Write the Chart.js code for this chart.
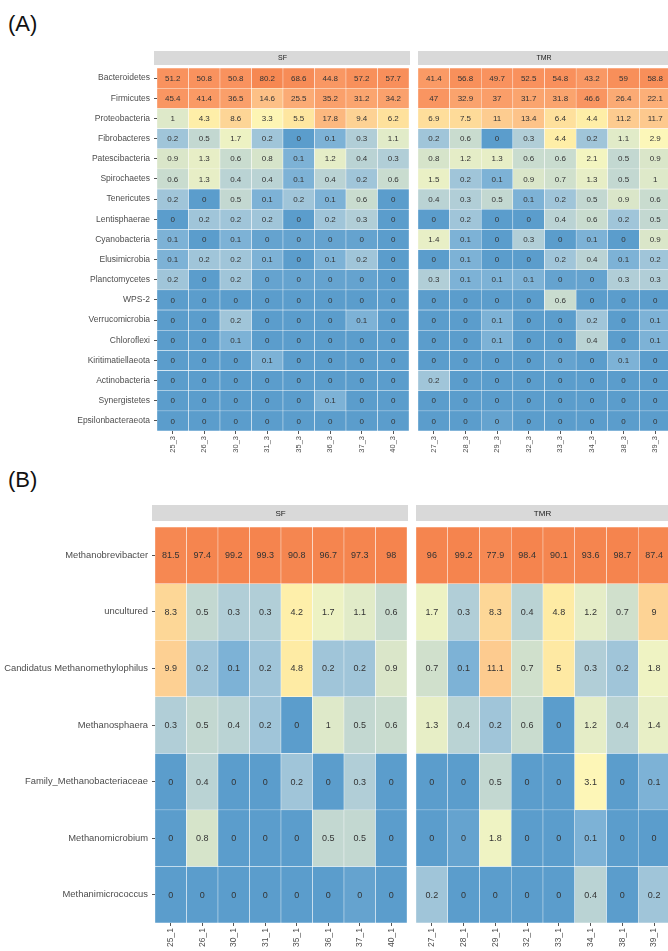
<!DOCTYPE html>
<html>
<head>
<meta charset="utf-8">
<script src="https://cdn.jsdelivr.net/npm/chart.js@4.4.1/dist/chart.umd.min.js"></script>
<style>
  html, body { margin: 0; padding: 0; background: #ffffff; width: 668px; height: 951px; overflow: hidden; }
  .tag { position: absolute; font-family: "Liberation Sans", Arial, sans-serif; font-size: 22px; color: #111; }
  canvas { position: absolute; }
</style>
</head>
<body>
<div class="tag" style="left:8px; top:11px;">(A)</div>
<div class="tag" style="left:8px; top:467px;">(B)</div>
<canvas id="phylaSF" width="410" height="417" style="left:0px; top:40px;"></canvas>
<canvas id="phylaTMR" width="254" height="417" style="left:418px; top:40px;"></canvas>
<canvas id="methSF" width="408" height="456" style="left:0px; top:495px;"></canvas>
<canvas id="methTMR" width="255" height="456" style="left:416px; top:495px;"></canvas>
<script>
// ---- (A) bacterial phyla, relative abundance (%) ----
const phyla = ['Bacteroidetes', 'Firmicutes', 'Proteobacteria', 'Fibrobacteres', 'Patescibacteria',
  'Spirochaetes', 'Tenericutes', 'Lentisphaerae', 'Cyanobacteria', 'Elusimicrobia', 'Planctomycetes',
  'WPS-2', 'Verrucomicrobia', 'Chloroflexi', 'Kiritimatiellaeota', 'Actinobacteria', 'Synergistetes',
  'Epsilonbacteraeota'];
const sfSamplesA = ['25_3', '26_3', '30_3', '31_3', '35_3', '36_3', '37_3', '40_3'];
const tmrSamplesA = ['27_3', '28_3', '29_3', '32_3', '33_3', '34_3', '38_3', '39_3'];

const phylaSF = [
  [51.2, 50.8, 50.8, 80.2, 68.6, 44.8, 57.2, 57.7],
  [45.4, 41.4, 36.5, 14.6, 25.5, 35.2, 31.2, 34.2],
  [1, 4.3, 8.6, 3.3, 5.5, 17.8, 9.4, 6.2],
  [0.2, 0.5, 1.7, 0.2, 0, 0.1, 0.3, 1.1],
  [0.9, 1.3, 0.6, 0.8, 0.1, 1.2, 0.4, 0.3],
  [0.6, 1.3, 0.4, 0.4, 0.1, 0.4, 0.2, 0.6],
  [0.2, 0, 0.5, 0.1, 0.2, 0.1, 0.6, 0],
  [0, 0.2, 0.2, 0.2, 0, 0.2, 0.3, 0],
  [0.1, 0, 0.1, 0.03, 0.03, 0.03, 0.03, 0],
  [0.1, 0.2, 0.2, 0.1, 0, 0.1, 0.2, 0],
  [0.2, 0, 0.2, 0.03, 0.03, 0.03, 0.03, 0],
  [0, 0, 0, 0, 0, 0, 0, 0],
  [0, 0, 0.2, 0, 0, 0, 0.1, 0],
  [0, 0, 0.1, 0, 0, 0, 0, 0],
  [0, 0, 0, 0.1, 0, 0, 0, 0],
  [0, 0, 0, 0, 0, 0, 0, 0],
  [0, 0, 0, 0, 0, 0.1, 0, 0],
  [0, 0, 0, 0, 0, 0, 0, 0]
];
const phylaTMR = [
  [41.4, 56.8, 49.7, 52.5, 54.8, 43.2, 59, 58.8],
  [47, 32.9, 37, 31.7, 31.8, 46.6, 26.4, 22.1],
  [6.9, 7.5, 11, 13.4, 6.4, 4.4, 11.2, 11.7],
  [0.2, 0.6, 0, 0.3, 4.4, 0.2, 1.1, 2.9],
  [0.8, 1.2, 1.3, 0.6, 0.6, 2.1, 0.5, 0.9],
  [1.5, 0.2, 0.1, 0.9, 0.7, 1.3, 0.5, 1],
  [0.4, 0.3, 0.5, 0.1, 0.2, 0.5, 0.9, 0.6],
  [0, 0.2, 0, 0, 0.4, 0.6, 0.2, 0.5],
  [1.4, 0.1, 0, 0.3, 0, 0.1, 0, 0.9],
  [0, 0.1, 0, 0, 0.2, 0.4, 0.1, 0.2],
  [0.3, 0.1, 0.1, 0.1, 0.03, 0.03, 0.3, 0.3],
  [0, 0, 0, 0, 0.6, 0, 0, 0],
  [0, 0, 0.1, 0, 0, 0.2, 0, 0.1],
  [0, 0, 0.1, 0, 0, 0.4, 0, 0.1],
  [0, 0, 0, 0, 0.03, 0, 0.1, 0],
  [0.2, 0, 0, 0, 0, 0, 0, 0],
  [0, 0, 0, 0, 0, 0, 0, 0],
  [0, 0, 0.03, 0, 0, 0, 0, 0]
];

// ---- (B) methanogen genera, relative abundance (%) ----
const genera = ['Methanobrevibacter', 'uncultured', 'Candidatus Methanomethylophilus', 'Methanosphaera',
  'Family_Methanobacteriaceae', 'Methanomicrobium', 'Methanimicrococcus'];
const sfSamplesB = ['25_1', '26_1', '30_1', '31_1', '35_1', '36_1', '37_1', '40_1'];
const tmrSamplesB = ['27_1', '28_1', '29_1', '32_1', '33_1', '34_1', '38_1', '39_1'];

const generaSF = [
  [81.5, 97.4, 99.2, 99.3, 90.8, 96.7, 97.3, 98],
  [8.3, 0.5, 0.3, 0.3, 4.2, 1.7, 1.1, 0.6],
  [9.9, 0.2, 0.1, 0.2, 4.8, 0.2, 0.2, 0.9],
  [0.3, 0.5, 0.4, 0.2, 0, 1, 0.5, 0.6],
  [0, 0.4, 0, 0, 0.2, 0, 0.3, 0],
  [0, 0.8, 0, 0, 0, 0.5, 0.5, 0],
  [0, 0, 0, 0, 0, 0, 0.03, 0]
];
const generaTMR = [
  [96, 99.2, 77.9, 98.4, 90.1, 93.6, 98.7, 87.4],
  [1.7, 0.3, 8.3, 0.4, 4.8, 1.2, 0.7, 9],
  [0.7, 0.1, 11.1, 0.7, 5, 0.3, 0.2, 1.8],
  [1.3, 0.4, 0.2, 0.6, 0, 1.2, 0.4, 1.4],
  [0, 0, 0.5, 0, 0, 3.1, 0, 0.1],
  [0, 0.03, 1.8, 0, 0, 0.1, 0, 0],
  [0.2, 0, 0, 0, 0, 0.4, 0, 0.2]
];

// ---- colour ramp (blue -> pale yellow -> orange) ----
const ramp = [
  [0, [91, 157, 204]], [0.1, [125, 178, 214]], [0.2, [160, 197, 217]], [0.3, [177, 206, 215]],
  [0.5, [195, 216, 209]], [0.8, [214, 228, 202]], [1.2, [229, 237, 199]], [2, [242, 245, 193]],
  [3, [253, 247, 184]], [4.5, [254, 237, 166]], [6, [254, 226, 157]], [9, [253, 211, 149]],
  [13, [253, 196, 138]], [20, [252, 178, 122]], [35, [250, 160, 107]], [50, [249, 146, 94]],
  [80, [246, 136, 82]], [100, [245, 132, 78]]
];
function cellColour(v) {
  for (let i = 1; i < ramp.length; i++) {
    const [v0, c0] = ramp[i - 1], [v1, c1] = ramp[i];
    if (v <= v1) {
      const t = (v - v0) / (v1 - v0);
      const c = c0.map((k, j) => Math.round(k + (c1[j] - k) * t));
      return `rgb(${c[0]},${c[1]},${c[2]})`;
    }
  }
  const c = ramp[ramp.length - 1][1];
  return `rgb(${c[0]},${c[1]},${c[2]})`;
}
const fmt = v => String(Math.round(v * 10) / 10);
const FONT = '"Liberation Sans", Arial, sans-serif';

// facet strip above each panel and the value printed in every tile
const facetPlugin = {
  id: 'facet',
  beforeDraw(chart, args, o) {
    const a = chart.chartArea, ctx = chart.ctx;
    ctx.save();
    ctx.fillStyle = '#d9d9d9';
    const x0 = a.left - o.padL, x1 = a.right + o.padR;
    const y1 = a.top - o.gap, y0 = y1 - o.h;
    ctx.fillRect(x0, y0, x1 - x0, o.h);
    ctx.fillStyle = '#1a1a1a';
    ctx.font = `${o.size}px ${FONT}`;
    ctx.textAlign = 'center';
    ctx.textBaseline = 'middle';
    ctx.fillText(o.text, (x0 + x1) / 2, (y0 + y1) / 2 + 0.5);
    ctx.restore();
  },
  afterDatasetsDraw(chart, args, o) {
    const ctx = chart.ctx;
    ctx.save();
    ctx.font = `${o.cellSize}px ${FONT}`;
    ctx.fillStyle = '#333333';
    ctx.textAlign = 'center';
    ctx.textBaseline = 'middle';
    chart.data.datasets.forEach((ds, i) => {
      chart.getDatasetMeta(i).data.forEach((el, j) => {
        const p = el.getCenterPoint();
        ctx.fillText(fmt(ds.cellValues[j]), p.x, p.y + 0.5);
      });
    });
    ctx.restore();
  }
};

function heatmap(id, rows, cols, values, o) {
  const datasets = rows.map((name, r) => ({
    label: name,
    data: cols.map(() => 1),          // one tile per sample, stacked row by row
    cellValues: values[r],
    backgroundColor: values[r].map(cellColour),
    borderColor: '#ffffff',
    borderWidth: 0.5,
    borderSkipped: false,
    barPercentage: 1,
    categoryPercentage: 1
  }));
  return new Chart(document.getElementById(id), {
    type: 'bar',
    data: { labels: cols, datasets },
    plugins: [facetPlugin],
    options: {
      responsive: false,
      animation: false,
      devicePixelRatio: 1,
      layout: { padding: { top: o.padTop, right: 1, left: 0, bottom: 0 } },
      plugins: {
        legend: { display: false },
        tooltip: { enabled: false },
        facet: { text: o.strip, padL: 3, padR: 2, gap: o.gap, h: o.stripH, size: o.stripSize, cellSize: o.cellSize }
      },
      scales: {
        x: {
          stacked: true,
          offset: true,
          border: { display: false },
          grid: { offset: false, drawOnChartArea: false, tickLength: 3, color: '#555555' },
          ticks: {
            autoSkip: false, minRotation: 90, maxRotation: 90, padding: 2,
            color: '#4d4d4d', font: { family: FONT, size: o.xSize }
          },
          afterFit: s => { s.height = o.xHeight; }
        },
        y: {
          type: 'linear',
          stacked: true,
          reverse: true,
          min: 0,
          max: rows.length,
          display: o.rowLabels,
          border: { display: false },
          grid: { drawOnChartArea: false, tickLength: 3, color: '#555555' },
          afterBuildTicks: s => { s.ticks = rows.map((_, i) => ({ value: i + 0.5 })); },
          ticks: {
            autoSkip: false, padding: 4,
            color: '#4d4d4d', font: { family: FONT, size: o.ySize },
            callback: v => rows[Math.floor(v)]
          },
          afterFit: s => { s.width = o.yWidth; }
        }
      }
    }
  });
}

const panelA = { padTop: 28, gap: 3, stripH: 14, stripSize: 7, cellSize: 8, xSize: 7.5, ySize: 8.5, xHeight: 26 };
const panelB = { padTop: 32, gap: 6, stripH: 16, stripSize: 8, cellSize: 9, xSize: 8.5, ySize: 9.4, xHeight: 28 };

heatmap('phylaSF', phyla, sfSamplesA, phylaSF, { ...panelA, strip: 'SF', rowLabels: true, yWidth: 157 });
heatmap('phylaTMR', phyla, tmrSamplesA, phylaTMR, { ...panelA, strip: 'TMR', rowLabels: false, yWidth: 0 });
heatmap('methSF', genera, sfSamplesB, generaSF, { ...panelB, strip: 'SF', rowLabels: true, yWidth: 155 });
heatmap('methTMR', genera, tmrSamplesB, generaTMR, { ...panelB, strip: 'TMR', rowLabels: false, yWidth: 0 });
</script>
</body>
</html>
